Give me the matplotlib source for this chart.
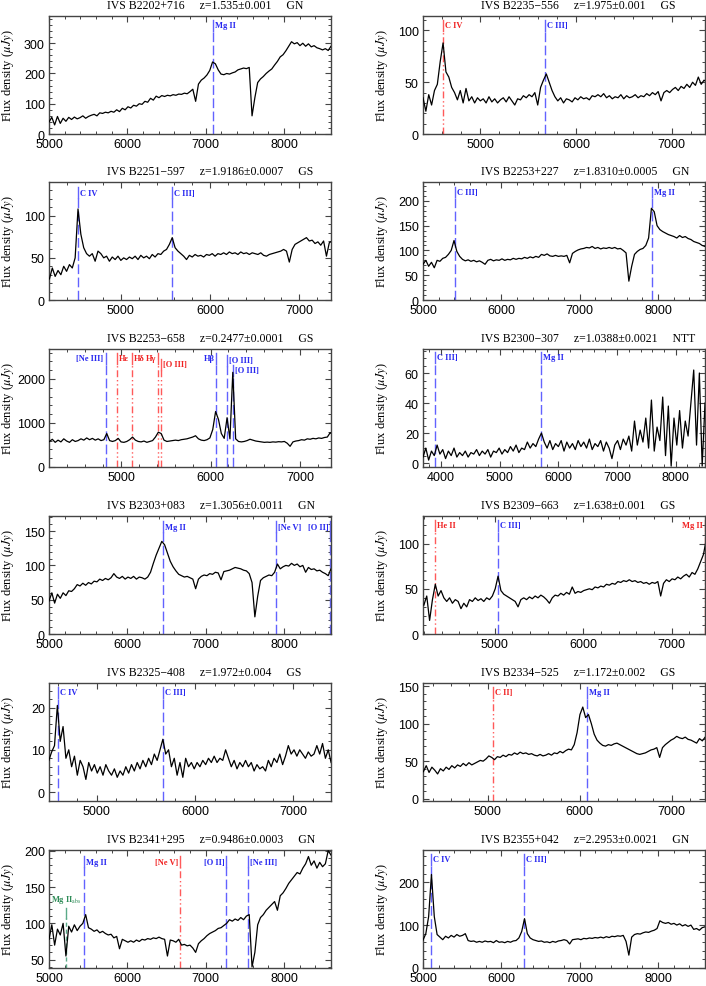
import numpy as np
import matplotlib
matplotlib.use("Agg")
import matplotlib.pyplot as plt
from matplotlib.ticker import MultipleLocator

plt.rcParams['mathtext.fontset'] = 'stix'

# ---------------- data ----------------
P1_NAME, P1_Z, P1_TEL = "IVS B2202+716", "z=1.535±0.001", "GN"
P1_WAVE = (5000, 8600)
P1_FLUX = [40, 55, 30, 58, 35, 52, 42, 55, 48, 56,
           50, 54, 60, 52, 58, 62, 65, 60, 70, 68,
           72, 70, 75, 72, 80, 74, 85, 80, 90, 86,
           95, 92, 100, 98, 108, 105, 118, 112, 125, 120,
           127, 124, 128, 126, 130, 128, 132, 131, 135, 133,
           140, 148, 108, 165, 178, 185, 195, 210, 238, 232,
           212, 198, 196, 200, 198, 202, 205, 212, 215, 218,
           216, 220, 60, 120, 170, 182, 190, 200, 208, 215,
           228, 240, 255, 262, 275, 290, 305, 298, 302, 292,
           300, 290, 298, 288, 292, 285, 282, 278, 282, 276,
           290]
P1_LINES = [(7093, "Mg II", "blue", "right", 0.92)]

P2_NAME, P2_Z, P2_TEL = "IVS B2235−556", "z=1.975±0.001", "GS"
P2_WAVE = (4400, 7370)
P2_FLUX = [35, 22, 38, 28, 42, 48, 70, 88, 60, 55,
           45, 40, 33, 42, 30, 44, 32, 36, 30, 35,
           32, 34, 30, 36, 31, 34, 30, 33, 35, 31,
           36, 32, 28, 34, 33, 37, 35, 38, 36, 40,
           28, 45, 52, 58, 50, 42, 36, 32, 35, 30,
           34, 33, 31, 35, 33, 36, 34, 35, 33, 37,
           36, 38, 36, 39, 35, 37, 34, 36, 35, 38,
           34, 37, 35, 36, 38, 35, 37, 36, 39, 37,
           40, 38, 41, 32, 40, 42, 40, 43, 45, 42,
           46, 44, 48, 45, 50, 47, 55, 48, 52, 50]
P2_LINES = [(4608, "C IV", "red", "right", 0.92),
            (5679, "C III]", "blue", "right", 0.92)]

P3_NAME, P3_Z, P3_TEL = "IVS B2251−597", "z=1.9186±0.0007", "GS"
P3_WAVE = (4200, 7368)
P3_FLUX = [25, 38, 28, 35, 30, 40, 34, 42, 38, 50,
           108, 78, 62, 55, 52, 55, 46, 58, 55, 50,
           52, 46, 51, 48, 52, 47, 50, 48, 51, 49,
           52, 48, 53, 50, 52, 49, 54, 51, 55, 54,
           58, 60, 66, 74, 62, 58, 55, 52, 48, 53,
           51, 54, 52, 53, 51, 54, 53, 55, 52, 55,
           54, 56, 54, 57, 55, 56, 54, 57, 55, 56,
           54, 56, 55, 54, 56, 53, 52, 54, 55, 56,
           57, 58, 60, 58, 45, 60, 66, 68, 70, 72,
           74, 70, 71, 67, 69, 65, 70, 52, 68, 70]
P3_LINES = [(4521, "C IV", "blue", "right", 0.91),
            (5572, "C III]", "blue", "right", 0.91)]

P4_NAME, P4_Z, P4_TEL = "IVS B2253+227", "z=1.8310±0.0005", "GN"
P4_WAVE = (5000, 8600)
P4_FLUX = [72, 80, 68, 76, 65, 80, 78, 84, 86, 92,
           100, 120, 98, 88, 82, 79, 81, 78, 80, 77,
           79, 76, 72, 80, 82, 79, 81, 80, 83, 80,
           82, 81, 84, 82, 84, 83, 86, 84, 87, 85,
           88, 86, 92, 90, 93, 89, 88, 90, 88, 89,
           88, 90, 75, 94, 98, 101, 103, 104, 106, 105,
           108, 104, 106, 103, 105, 104, 106, 104, 106, 103,
           104, 100, 95, 38, 68, 92, 98, 102, 104, 110,
           125, 185, 178, 150, 142, 138, 135, 132, 130, 128,
           125, 130, 126, 128, 124, 122, 118, 116, 114, 110,
           108]
P4_LINES = [(5404, "C III]", "blue", "right", 0.915),
            (7921, "Mg II", "blue", "right", 0.915)]

P5_NAME, P5_Z, P5_TEL = "IVS B2253−658", "z=0.2477±0.0001", "GS"
P5_WAVE = (4200, 7368)
P5_FLUX = [580, 630, 560, 610, 570, 640, 590, 560, 620, 580,
           600, 640, 610, 660, 620, 650, 610, 640, 600, 620,
           760, 600, 580, 600, 650, 570, 560, 580, 620, 680,
           610, 580, 570, 590, 560, 580, 600, 680, 790, 760,
           610, 580, 590, 600, 610, 600, 620, 630, 640, 660,
           680, 710, 640, 610, 600, 620, 660, 850, 1260, 1080,
           760, 650, 1120, 640, 2150, 640, 580, 570, 580, 600,
           630, 610, 590, 580, 570, 560, 565, 560, 570, 565,
           575, 570, 580, 540, 470, 570, 590, 600, 620, 610,
           640, 630, 650, 640, 660, 650, 670, 680, 780, 720]
P5_LINES = [(4827, "[Ne III]", "blue", "left", 0.92),
            (4953, "Hε", "red", "right", 0.92),
            (5118, "Hδ", "red", "right", 0.92),
            (5415, "Hγ", "red", "left", 0.92),
            (5444, "[O III]", "red", "right", 0.87),
            (6065, "Hβ", "blue", "left", 0.92),
            (6187, "[O III]", "blue", "right", 0.905),
            (6247, "[O III]", "blue", "right", 0.82)]

P6_NAME, P6_Z, P6_TEL = "IVS B2300−307", "z=1.0388±0.0021", "NTT"
P6_WAVE = (3690, 8500)
P6_FLUX = [4, 10, 2, 8, 5, 12, 6, 9, 3, 8,
           5, 10, 4, 7, 5, 8, 4, 7, 6, 9,
           5, 8, 6, 9, 4, 8, 7, 10, 6, 9,
           7, 11, 8, 12, 7, 10, 9, 14, 10, 13,
           11, 16, 20, 14, 10, 15, 9, 13, 11, 15,
           8, 14, 10, 13, 9, 15, 11, 14, 10, 16,
           9, 13, 11, 15, 8, 14, 10, 3, 12, 15,
           9, 16, 12, 18, 8, 28, 12, 22, 14, 30,
           10, 42, 8, 24, 15, 44, 5, 38, -2, 30,
           12, 35, 10, 28, 18, 40, 62, 12, 60, -2,
           40]
P6_LINES = [(3892, "C III]", "blue", "right", 0.93),
            (5705, "Mg II", "blue", "right", 0.93)]

P7_NAME, P7_Z, P7_TEL = "IVS B2303+083", "z=1.3056±0.0011", "GN"
P7_WAVE = (5000, 8600)
P7_FLUX = [48, 60, 45, 58, 52, 60, 56, 63, 62, 66,
           72, 70, 74, 71, 75, 73, 77, 76, 80, 78,
           81, 79, 82, 88, 83, 81, 84, 80, 83, 81,
           84, 80, 83, 82, 80, 83, 90, 103, 115, 125,
           135, 130, 118, 106, 98, 92, 87, 85, 83, 84,
           82, 80, 66, 80, 84, 86, 85, 88, 87, 90,
           89, 79, 91, 92, 93, 95, 97, 96, 95, 93,
           92, 88, 75, 25, 55, 78, 82, 84, 86, 85,
           90, 102, 95, 98, 100, 99, 103, 100, 102, 98,
           100, 90, 97, 94, 95, 92, 93, 90, 88, 85,
           95]
P7_LINES = [(6451, "Mg II", "blue", "right", 0.91),
            (7899, "[Ne V]", "blue", "right", 0.91),
            (8593, "[O II]", "blue", "left", 0.91)]

P8_NAME, P8_Z, P8_TEL = "IVS B2309−663", "z=1.638±0.001", "GS"
P8_WAVE = (4200, 7391)
P8_FLUX = [32, 42, 15, 38, 55, 42, 48, 40, 36, 40,
           34, 38, 36, 28, 34, 30, 38, 36, 40, 37,
           39, 36, 40, 38, 42, 50, 64, 48, 44, 42,
           40, 38, 36, 30, 38, 40, 38, 41, 39, 42,
           40, 43, 41, 38, 34, 40, 43, 42, 45, 43,
           46, 44, 52, 45, 47, 46, 48, 49, 50, 49,
           52, 51, 53, 52, 55, 54, 56, 55, 58, 57,
           59, 58, 60, 58, 59, 57, 58, 56, 57, 55,
           57, 56, 58, 42, 56, 60, 58, 61, 60, 63,
           61, 64, 66, 63, 68, 66, 72, 80, 88, 105]
P8_LINES = [(4326, "He II", "red", "right", 0.92),
            (5036, "C III]", "blue", "right", 0.92),
            (7381, "Mg II", "red", "left", 0.92)]

P9_NAME, P9_Z, P9_TEL = "IVS B2325−408", "z=1.972±0.004", "GS"
P9_WAVE = (4510, 7389)
P9_FLUX = [7.5, 9.5, 11, 20.5, 12, 15.5, 8, 10, 6, 8.5,
           4, 7.5, 6, 3, 7, 5, 6.5, 4.5, 6, 4,
           6.5, 5, 4, 5.5, 3.5, 5, 4, 6, 4.5, 6.5,
           5, 7, 5.5, 7.5, 6, 8, 6.5, 9, 7.5, 10,
           12.5, 9, 10, 6, 8, 4, 7, 3.5, 8, 6,
           7, 5.5, 7, 6, 7.5, 6.5, 8, 7, 8.5, 7,
           8, 7.5, 10, 8, 6, 7.5, 5.5, 7, 6, 7.5,
           6, 7, 5, 6.5, 5.5, 6, 5, 7.5, 6, 8,
           7, 9, 6.5, 8.5, 11, 9, 10, 8.5, 10, 9,
           8, 9.5, 8.5, 9, 11, 9, 11.5, 8, 10, 7]
P9_LINES = [(4604, "C IV", "blue", "right", 0.92),
            (5673, "C III]", "blue", "right", 0.92)]

P10_NAME, P10_Z, P10_TEL = "IVS B2334−525", "z=1.172±0.002", "GS"
P10_WAVE = (4300, 7363)
P10_FLUX = [36, 44, 35, 42, 38, 33, 40, 37, 42, 39,
            44, 41, 45, 43, 47, 44, 48, 45, 47, 49,
            51, 50, 53, 57, 55, 52, 56, 55, 58, 56,
            59, 58, 61, 59, 62, 60, 61, 59, 60, 58,
            57, 59, 57, 58, 60, 58, 61, 60, 63, 61,
            64, 66, 65, 72, 88, 112, 122, 108, 112, 100,
            86, 78, 74, 71, 70, 72, 71, 73, 74, 72,
            70, 68, 66, 64, 62, 60, 59, 60, 61, 63,
            65, 66, 68, 55, 68, 72, 75, 78, 80, 83,
            81, 80, 82, 79, 78, 76, 74, 80, 77, 82]
P10_LINES = [(5052, "C II]", "red", "right", 0.92),
             (6077, "Mg II", "blue", "right", 0.92)]

P11_NAME, P11_Z, P11_TEL = "IVS B2341+295", "z=0.9486±0.0003", "GN"
P11_WAVE = (5000, 8600)
P11_FLUX = [78, 98, 70, 92, 84, 100, 55, 96, 88, 98,
            90, 96, 100, 112, 94, 92, 89, 91, 87, 89,
            86, 84, 85, 80, 82, 65, 78, 76, 74, 76,
            74, 77, 75, 78, 77, 79, 78, 80, 79, 81,
            79, 78, 55, 77, 76, 74, 78, 70, 71, 69,
            70, 66, 60, 72, 76, 79, 83, 86, 88, 90,
            93, 94, 97, 100, 105, 103, 106, 104, 108, 105,
            110, 112, 40, 60, 98, 108, 112, 118, 122, 126,
            130, 118, 138, 142, 148, 155, 160, 165, 170, 168,
            176, 182, 192, 180, 186, 176, 184, 178, 182, 200,
            194]
P11_LINES = [(5215, r"Mg II$_{\rm abs}$", "green", "center", 0.465),
             (5452, "Mg II", "blue", "right", 0.90),
             (6676, "[Ne V]", "red", "left", 0.90),
             (7263, "[O II]", "blue", "left", 0.90),
             (7539, "[Ne III]", "blue", "right", 0.90)]

P12_NAME, P12_Z, P12_TEL = "IVS B2355+042", "z=2.2953±0.0021", "GN"
P12_WAVE = (5000, 8600)
P12_FLUX = [65, 80, 120, 218, 120, 78, 72, 66, 74, 70,
            76, 72, 78, 74, 76, 80, 64, 62, 63, 60,
            62, 60, 63, 61, 62, 59, 64, 60, 61, 59,
            62, 60, 63, 64, 70, 85, 115, 80, 70, 66,
            64, 62, 63, 60, 61, 59, 62, 60, 63, 64,
            66, 64, 56, 66, 67, 68, 66, 69, 68, 70,
            69, 71, 70, 72, 70, 73, 71, 74, 73, 75,
            74, 76, 62, 30, 72, 78, 80, 79, 82, 84,
            83, 86, 88, 92, 110, 106, 104, 106, 102, 104,
            100, 103, 98, 101, 97, 100, 90, 92, 88, 94,
            96]
P12_LINES = [(5104, "C IV", "blue", "right", 0.92),
             (6291, "C III]", "blue", "right", 0.92)]

# axis ranges and tick steps
XLIMS = [(5000, 8600), (4400, 7350), (4195, 7355), (5000, 8600),
         (4195, 7345), (3690, 8500), (5000, 8600), (4190, 7376),
         (4512, 7388), (4296, 7361), (5000, 8600), (5000, 8600)]
YLIMS = [(0, 390), (0, 114), (0, 140), (0, 238),
         (0, 2680), (-2.6, 76), (0, 172), (0, 130.5),
         (-2.1, 25.8), (-3, 154), (38.5, 201), (0, 275)]
YSTEPS = [(100, 20), (50, 10), (50, 10), (50, 10),
          (1000, 200), (20, 5), (50, 10), (50, 10),
          (10, 2), (50, 10), (50, 10), (100, 20)]

PANELS = [
    (P1_NAME, P1_Z, P1_TEL, P1_WAVE, P1_FLUX, P1_LINES),
    (P2_NAME, P2_Z, P2_TEL, P2_WAVE, P2_FLUX, P2_LINES),
    (P3_NAME, P3_Z, P3_TEL, P3_WAVE, P3_FLUX, P3_LINES),
    (P4_NAME, P4_Z, P4_TEL, P4_WAVE, P4_FLUX, P4_LINES),
    (P5_NAME, P5_Z, P5_TEL, P5_WAVE, P5_FLUX, P5_LINES),
    (P6_NAME, P6_Z, P6_TEL, P6_WAVE, P6_FLUX, P6_LINES),
    (P7_NAME, P7_Z, P7_TEL, P7_WAVE, P7_FLUX, P7_LINES),
    (P8_NAME, P8_Z, P8_TEL, P8_WAVE, P8_FLUX, P8_LINES),
    (P9_NAME, P9_Z, P9_TEL, P9_WAVE, P9_FLUX, P9_LINES),
    (P10_NAME, P10_Z, P10_TEL, P10_WAVE, P10_FLUX, P10_LINES),
    (P11_NAME, P11_Z, P11_TEL, P11_WAVE, P11_FLUX, P11_LINES),
    (P12_NAME, P12_Z, P12_TEL, P12_WAVE, P12_FLUX, P12_LINES),
]

# ---------------- styling ----------------
STYLE = {
    "blue": ("#6262ff", "#2626f0", (7, 2.5)),
    "red": ("#ff5a5a", "#f02020", (5, 2, 1, 2, 1, 2)),
    "green": ("#5aaa88", "#2e8b57", (3, 2)),
}
SERIF = "Liberation Serif"
SANS = "Liberation Sans"

W, H = 706, 987
fig = plt.figure(figsize=(W / 100, H / 100), dpi=100)

col_left = [49, 423]
col_width = 282
row_top = [17, 183, 350, 517, 684, 851]
ax_h = 118


def mark(ax, x, label, kind, side, ly):
    lc, tc, dash = STYLE[kind]
    tr = ax.get_xaxis_transform()
    ln, = ax.plot([x, x], [0, ly - 0.045], transform=tr, color=lc, lw=1.0, zorder=2)
    ln.set_dashes(dash)
    ax.plot([x, x], [ly - 0.045, ly + 0.045], transform=tr, color=lc, lw=1.0, zorder=2)
    if side == "center":
        ax.annotate(label, xy=(x, ly + 0.12), xycoords=tr, ha="center", va="center",
                    fontsize=6, color=tc, family=SERIF, fontweight="bold")
    else:
        dx = 1.5 if side == "right" else -1.5
        ax.annotate(label, xy=(x, ly), xycoords=tr, xytext=(dx, 0),
                    textcoords="offset points",
                    ha="left" if side == "right" else "right", va="center",
                    fontsize=6, color=tc, family=SERIF, fontweight="bold")


for k, (name, z, tel, wave, flux, lines) in enumerate(PANELS):
    r, c = divmod(k, 2)
    left = col_left[c] / W
    bottom = 1 - (row_top[r] + ax_h) / H
    ax = fig.add_axes([left, bottom, col_width / W, ax_h / H])
    lam = np.linspace(wave[0], wave[1], len(flux))
    ax.plot(lam, flux, color="black", lw=0.9, zorder=4)
    for (lx, lab, kind, side, ly) in lines:
        mark(ax, lx, lab, kind, side, ly)
    ax.set_xlim(*XLIMS[k])
    ax.set_ylim(*YLIMS[k])
    ax.xaxis.set_major_locator(MultipleLocator(1000))
    ax.xaxis.set_minor_locator(MultipleLocator(200))
    ax.yaxis.set_major_locator(MultipleLocator(YSTEPS[k][0]))
    ax.yaxis.set_minor_locator(MultipleLocator(YSTEPS[k][1]))
    ax.tick_params(which="both", direction="in", top=True, right=True,
                   color="#444444", labelsize=9)
    ax.tick_params(axis="x", pad=3)
    ax.tick_params(axis="y", pad=3)
    ax.tick_params(which="major", length=4.5, width=0.8)
    ax.tick_params(which="minor", length=2.2, width=0.7)
    for lab in ax.get_xticklabels() + ax.get_yticklabels():
        lab.set_family(SANS)
    for sp in ax.spines.values():
        sp.set_color("#444444")
        sp.set_linewidth(1.0)
    ax.set_ylabel(r"Flux density ($\mu Jy$)", family=SERIF, fontsize=9)
    ax.yaxis.set_label_coords(-0.118, 0.5)
    ax.text(0.205, 1.097, f"{name}     {z}     {tel}", transform=ax.transAxes,
            ha="left", va="center", family=SERIF, fontsize=8.5)

fig.savefig("out.png", dpi=100)
